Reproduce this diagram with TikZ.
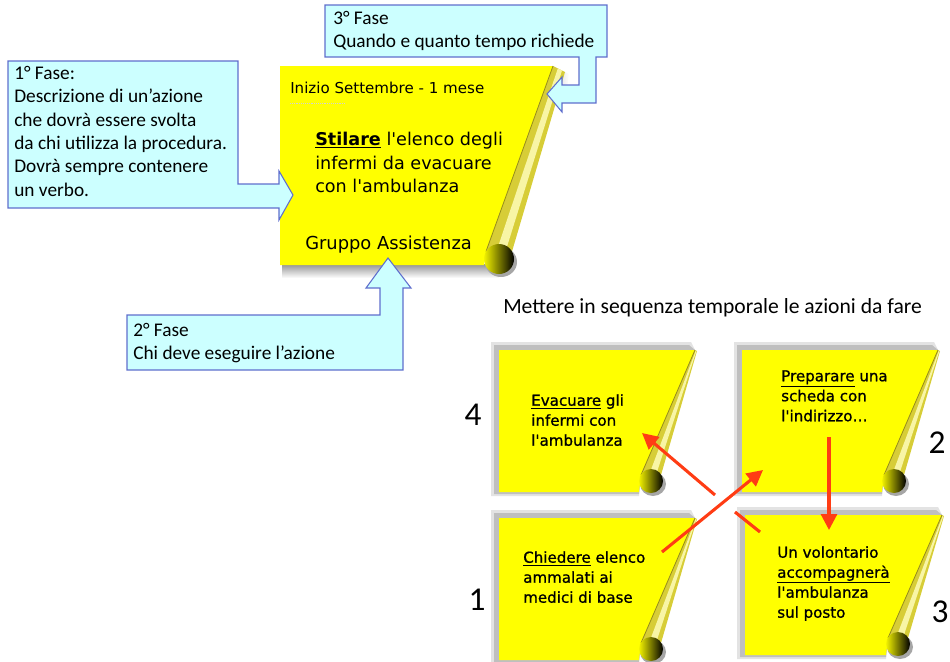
\documentclass[tikz,border=0pt]{standalone}
\usepackage{fontspec}
\setmainfont{Carlito}
\newfontfamily\comic{DejaVu Sans}
\newfontfamily\comicb[FakeBold=0.9]{DejaVu Sans}
\usetikzlibrary{arrows.meta,calc}
\definecolor{calfill}{RGB}{204,255,255}
\definecolor{calline}{RGB}{95,110,205}
\definecolor{noteyellow}{RGB}{255,255,0}
\definecolor{redarrow}{RGB}{255,60,20}
\definecolor{curlA}{RGB}{150,140,25}
\definecolor{curlB}{RGB}{215,205,55}
\definecolor{curlC}{RGB}{248,245,165}
\tikzset{
  callout/.style={fill=calfill, draw=calline, line width=0.8pt, line join=miter},
  calltext/.style={anchor=north west, inner sep=0pt, align=left, font=\fontsize{14.5}{17.5}\selectfont},
  notetext/.style={anchor=north west, inner sep=0pt, align=left, font=\comicb\fontsize{11.3}{15}\selectfont},
  numtext/.style={inner sep=0pt, font=\fontsize{25}{28}\selectfont},
  redarr/.style={draw=redarrow, line width=2.3pt, -{Triangle[length=12pt,width=12pt]}},
  redline/.style={draw=redarrow, line width=2.3pt},
}
% #1 x, #2 y, #3 w, #4 h, #5 shadow type (1 frame, 0 bottom), #6 cx, #7 cy, #8 r, #9 outer offset
\newcommand\stickynote[9]{%
\begin{scope}[shift={(#1,#2)}]
  \coordinate (F0) at (#3,0);
  \coordinate (F1) at ({#6-#8+2},{#7-#8/2});
  \coordinate (O0) at ({#3+#9},{#9/2});
  \coordinate (O1) at ({#6+#8-2},{#7-#8/2});
  \ifnum#5=1
    \fill[gray!22] (-8,-8) -- ({#3-4},-8) -- (F0) -- (F1) -- ({#6-#8},{#4+4}) -- (-8,{#4+4}) -- cycle;
    \fill[gray!50] (-5,-5) -- ({#3-6},-5) -- (F0) -- (F1) -- ({#6-#8},{#4+2}) -- (-5,{#4+2}) -- cycle;
  \else
    \shade[top color=gray!85, bottom color=white] (2,{#4-1}) rectangle ({#6},{#4+13});
    \shade[left color=gray!35, right color=white] (F0) -- ({#3+16},8) -- ({#3+12},36) -- ({#3},28) -- cycle;
  \fi
  \fill[noteyellow] (0,0) -- (F0) -- (F1) -- ({#6-#8},{#4}) -- (0,#4) -- cycle;
  \fill[curlB] (F0) -- (F1) -- (O1) -- (O0) -- cycle;
  \fill[curlC] ($(F0)!0.4!(O0)$) -- ($(F1)!0.4!(O1)$) -- ($(F1)!0.75!(O1)$) -- ($(F0)!0.75!(O0)$) -- cycle;
  \draw[curlA, line width=0.6pt] (F0) -- (F1);
  \fill[gray!70] ({#6+2},{#7+3}) ellipse[x radius={#8+1}, y radius={#8}];
  \shade[shading=axis, shading angle=-60, left color=yellow!90!olive, right color=black] (#6,#7) circle[radius=#8];
\end{scope}}

\begin{document}
\begin{tikzpicture}[x=0.75pt,y=-0.75pt]
\useasboundingbox (0,0) rectangle (950,661);

% main sticky note
\stickynote{280}{66}{273}{199}{0}{219}{193}{15}{12}
\node[anchor=base west, inner sep=0pt, font=\comic\fontsize{11.3}{13}\selectfont] (mdate) at (290,93) {Inizio Settembre - 1 mese};
\draw[gray!35, densely dotted] (290,103) -- (345,103);
\node[anchor=north west, inner sep=0pt, align=left, font=\comic\fontsize{13.2}{17.6}\selectfont] (mmain) at (315,132) {\underline{\textbf{Stilare}} l'elenco degli\\infermi da evacuare\\con l'ambulanza};
\node[anchor=base west, inner sep=0pt, font=\comic\fontsize{13.4}{16}\selectfont] (mgroup) at (305,249) {Gruppo Assistenza};

% callouts
\draw[callout] (8,61) -- (238,61) -- (238,184) -- (279,184) -- (279,171) -- (293,195) -- (279,220) -- (279,208) -- (8,208) -- cycle;
\node[calltext] (t1) at (14,66) {1° Fase:\\Descrizione di un’azione\\che dovrà essere svolta\\da chi utilizza la procedura.\\Dovrà sempre contenere\\un verbo.};

\draw[callout] (325,5) -- (607,5) -- (607,57) -- (596,57) -- (596,103) -- (562,103) -- (562,112) -- (547,94) -- (562,77) -- (562,85) -- (579,85) -- (579,57) -- (325,57) -- cycle;
\node[calltext] (t3) at (333,11) {3° Fase\\Quando e quanto tempo richiede};

\draw[callout] (127,315) -- (380,315) -- (380,288) -- (366,288) -- (388,258) -- (411,288) -- (403,288) -- (403,370) -- (127,370) -- cycle;
\node[calltext] (t2) at (133,323) {2° Fase\\Chi deve eseguire l’azione};

% title
\node[anchor=base west, inner sep=0pt, font=\fontsize{16.2}{19}\selectfont] (title) at (503,313) {Mettere in sequenza temporale le azioni da fare};

% small notes
\stickynote{499}{350}{196}{142}{1}{152}{131}{12}{2}
\stickynote{742}{350}{196}{142}{1}{152}{131}{12}{2}
\stickynote{499}{518}{196}{142}{1}{152}{131}{12}{2}
\stickynote{745}{515}{197}{140}{1}{153}{129}{12}{2}

\node[notetext] (n4) at (531,394) {\underline{Evacuare} gli\\infermi con\\l'ambulanza};
\node[notetext] (n2) at (781,370) {\underline{Preparare} una\\scheda con\\l'indirizzo…};
\node[notetext] (n1) at (523,551) {\underline{Chiedere} elenco\\ammalati ai\\medici di base};
\node[notetext] (n3) at (777,546) {Un volontario\\\underline{accompagnerà}\\l'ambulanza\\sul posto};

\node[numtext] (k4) at (473,415) {4};
\node[numtext] (k2) at (937,443) {2};
\node[numtext] (k1) at (477,600) {1};
\node[numtext] (k3) at (940,612) {3};

% red arrows
\coordinate (a1s) at (662,552);
\coordinate (a1e) at (763,470);
\coordinate (a2s) at (829,437);
\coordinate (a2e) at (829,530);
\coordinate (a3s) at (760,532);
\coordinate (a3m) at (735,512);
\coordinate (a3r) at (715,495);
\coordinate (a3e) at (642,433);
\draw[redarr] (a1s) -- (a1e);
\draw[redarr] (a2s) -- (a2e);
\draw[redline] (a3s) -- (a3m);
\draw[redarr] (a3r) -- (a3e);
\end{tikzpicture}
\end{document}
